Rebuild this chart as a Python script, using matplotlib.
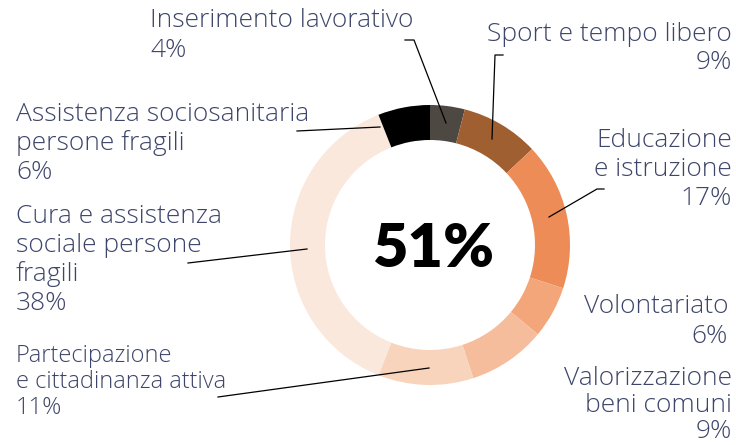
import matplotlib.pyplot as plt

# slice data, clockwise from the top
categories = ["Inserimento lavorativo", "Sport e tempo libero", "Educazione e istruzione",
              "Volontariato", "Valorizzazione beni comuni", "Partecipazione e cittadinanza attiva",
              "Cura e assistenza sociale persone fragili", "Assistenza sociosanitaria persone fragili"]
shares = [4, 9, 17, 6, 9, 11, 38, 6]
colors = ["#4d4842", "#a05f30", "#ed8c57", "#f2a679", "#f5bd9b", "#f8d4bc", "#fbe8dd", "#000000"]
label_lines = [
    ["Inserimento lavorativo", "4%"],
    ["Sport e tempo libero", "9%"],
    ["Educazione", "e istruzione", "17%"],
    ["Volontariato", "6%"],
    ["Valorizzazione", "beni comuni", "9%"],
    ["Partecipazione", "e cittadinanza attiva", "11%"],
    ["Cura e assistenza", "sociale persone", "fragili", "38%"],
    ["Assistenza sociosanitaria", "persone fragili", "6%"],
]
center_value = "51%"

W, H = 736, 445
TXT = "#3d456a"
FONT = "Open Sans"


def py(y):
    # pixel row from top -> data y
    return H - y


fig = plt.figure(figsize=(W / 100, H / 100), dpi=100)
ax = fig.add_axes([0, 0, 1, 1])
ax.pie(shares, colors=colors, startangle=90, counterclock=False,
       center=(430, py(245)), radius=140,
       wedgeprops=dict(width=35, edgecolor="none"))
ax.set_xlim(0, W)
ax.set_ylim(0, H)
ax.set_aspect("equal")
ax.axis("off")

ax.text(433, py(267), center_value, ha="center", va="baseline", fontsize=44,
        fontweight="heavy", family="Lato", color="black")

# (x, first baseline, align, line step, size)
layout = [
    (150, 27, "left", 30, 19),
    (732, 41, "right", 28, 19),
    (732, 147, "right", 29, 19),
    (728, 313, "right", 30, 19),
    (732, 385, "right", 26.5, 19),
    (16, 362, "left", 26, 17),
    (16, 223, "left", 29, 19),
    (16, 121, "left", 29, 19),
]
for lines, (x, y0, ha, step, fs) in zip(label_lines, layout):
    for i, s in enumerate(lines):
        ax.text(x, py(y0 + i * step), s, ha=ha, va="baseline", fontsize=fs,
                color=TXT, family=FONT, fontweight="light")

leaders = [
    [(405, 40), (414, 40), (446, 123)],
    [(503, 55), (495, 55), (492, 139)],
    [(604, 189), (597, 189), (549, 217)],
    [(218, 397), (429, 368)],
    [(188, 263), (307, 249)],
    [(297, 131), (380, 127)],
]
for pts in leaders:
    ax.plot([p[0] for p in pts], [py(p[1]) for p in pts], color="black", lw=0.9)

fig.savefig("out.png", dpi=100)
